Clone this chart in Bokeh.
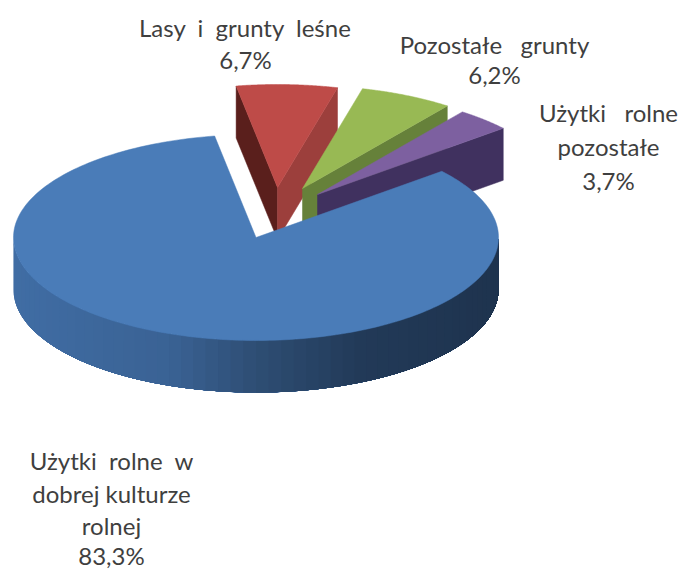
import numpy as np
from bokeh.plotting import figure
from bokeh.models import Range1d
from bokeh.core.properties import value
from bokeh.embed import file_html
from bokeh.resources import INLINE

categories = ["Użytki rolne w dobrej kulturze rolnej", "Lasy i grunty leśne", "Pozostałe grunty", "Użytki rolne pozostałe"]
values = [83.3, 6.7, 6.2, 3.7]
top_colors = ["#4A7CB8", "#BE4B48", "#98B954", "#7D60A0"]
left_face = [None, "#5A1F1C", None, None]
right_face = [None, "#9C3F3C", "#66813A", "#40315F"]

START = 50.0   # clock angle of first slice
A, B, T = 242.5, 103.0, 52.0
apex_x = [255.5, 277.0, 302.0, 317.0]
apex_y = [237.0, 187.0, 188.0, 194.0]

p = figure(width=680, height=572, x_range=Range1d(0, 680), y_range=Range1d(572, 0),
           output_backend="svg", toolbar_location=None, min_border=0,
           background_fill_color="white", border_fill_color="white", outline_line_color=None)
p.axis.visible = False
p.grid.visible = False


def pt(cx, cy, deg):
    r = np.radians(deg)
    return cx + A * np.sin(r), cy - B * np.cos(r)


def arc(cx, cy, a0, a1, n=80):
    t = np.linspace(a0, a1, n)
    return pt(cx, cy, t)


def quad(cx, cy, deg, color):
    ex, ey = pt(cx, cy, deg)
    p.patch([cx, ex, ex, cx], [cy, ey, ey + T, cy + T], fill_color=color, line_color=color, line_width=0.5)


# angular extents of the slices
spans = [v / sum(values) * 360 for v in values]
starts = [START]
for s in spans[:-1]:
    starts.append((starts[-1] + s))

# exploded slices, back to front
for i in [1, 2, 3]:
    a0, a1 = starts[i], starts[i] + spans[i]
    if left_face[i]:
        quad(apex_x[i], apex_y[i], a0, left_face[i])
    if right_face[i]:
        quad(apex_x[i], apex_y[i], a1, right_face[i])
    ax, ay = arc(apex_x[i], apex_y[i], a0, a1)
    p.patch([apex_x[i], *ax], [apex_y[i], *ay], fill_color=top_colors[i], line_color=top_colors[i], line_width=0.5)

# blue rim with a stepped gradient; each step overlaps the next so no seams show
stops_x = [13, 170, 255, 360, 498]
stops_c = np.array([[0x40, 0x6D, 0xA4], [0x3A, 0x62, 0x94], [0x2E, 0x4E, 0x74], [0x22, 0x3A, 0x58], [0x1E, 0x33, 0x4E]], float)
edges = np.linspace(270, 90, 61)
for a0, a1 in zip(edges[:-1], edges[1:]):
    ax, ay = arc(apex_x[0], apex_y[0], a0, 90, 120)
    xm = pt(apex_x[0], apex_y[0], (a0 + a1) / 2)[0]
    c = [int(round(np.interp(xm, stops_x, stops_c[:, k]))) for k in range(3)]
    col = "#%02X%02X%02X" % tuple(c)
    p.patch([*ax, *ax[::-1]], [*ay, *(ay[::-1] + T)], fill_color=col, line_color=None)

ax, ay = arc(apex_x[0], apex_y[0], starts[0], starts[0] + spans[0], 240)
p.patch([apex_x[0], *ax], [apex_y[0], *ay], fill_color=top_colors[0], line_color=top_colors[0], line_width=0.5)

# labels
S = " \u00a0"
S3 = " \u00a0\u00a0"
label_text = [f"Lasy{S}i{S}grunty{S}leśne", "6,7%",
              f"Pozostałe{S3}grunty", "6,2%",
              f"Użytki{S3}rolne", "pozostałe", "3,7%",
              f"Użytki{S}rolne{S}w", "dobrej kulturze", "rolnej", "83,3%"]
label_x = [245, 245, 494, 494, 608, 608, 608, 111, 111, 111, 111]
label_y = [27, 59, 44, 74, 112, 146, 180, 460, 493, 525, 555]
p.text(label_x, label_y, text=label_text, text_font=value("Lato"), text_font_size="24px",
       text_color="#3F3F3F", text_align="center", text_baseline="alphabetic")

open("out.html", "w").write(file_html(p, INLINE))
